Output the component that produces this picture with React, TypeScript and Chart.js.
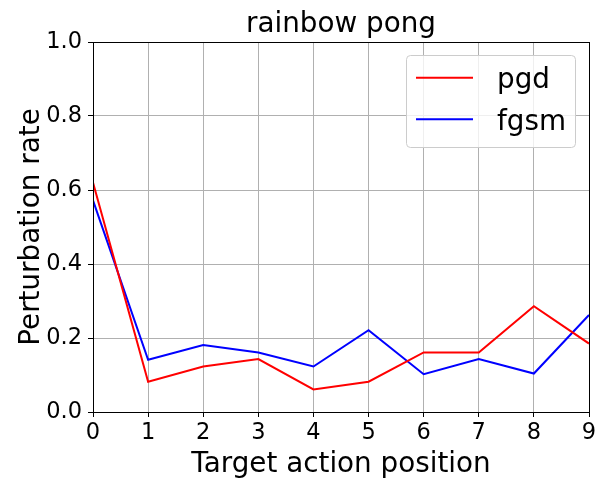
import React, { useEffect, useRef } from "react";
import { Chart, registerables, Plugin } from "chart.js";

Chart.register(...registerables);

const chartTitle = "rainbow pong";
const xTitle = "Target action position";
const yTitle = "Perturbation rate";

const positions = [0, 1, 2, 3, 4, 5, 6, 7, 8, 9];
const pgd = [0.62, 0.082, 0.123, 0.143, 0.061, 0.082, 0.161, 0.161, 0.286, 0.185];
const fgsm = [0.572, 0.141, 0.181, 0.161, 0.123, 0.221, 0.102, 0.143, 0.104, 0.262];

const FONT = "'DejaVu Sans'";

// titles, full frame and matplotlib-style legend
const decorations: Plugin<"line"> = {
  id: "decorations",
  afterDraw(chart) {
    const ctx = chart.ctx;
    const { left, right, top, bottom } = chart.chartArea;
    ctx.save();

    // frame
    ctx.strokeStyle = "#000000";
    ctx.lineWidth = 1;
    ctx.strokeRect(Math.round(left) + 0.5, Math.round(top) + 0.5, Math.round(right - left), Math.round(bottom - top));

    ctx.fillStyle = "#000000";
    ctx.font = `27.8px ${FONT}`;
    ctx.textAlign = "center";
    ctx.textBaseline = "alphabetic";
    ctx.fillText(chartTitle, (left + right) / 2, 32);
    ctx.fillText(xTitle, (left + right) / 2, 471.5);

    ctx.save();
    ctx.translate(38.5, (top + bottom) / 2);
    ctx.rotate(-Math.PI / 2);
    ctx.fillText(yTitle, 0, 0);
    ctx.restore();

    // legend
    const bx = 406.5, by = 55.5, bw = 169, bh = 92, r = 4;
    ctx.beginPath();
    ctx.moveTo(bx + r, by);
    ctx.lineTo(bx + bw - r, by);
    ctx.quadraticCurveTo(bx + bw, by, bx + bw, by + r);
    ctx.lineTo(bx + bw, by + bh - r);
    ctx.quadraticCurveTo(bx + bw, by + bh, bx + bw - r, by + bh);
    ctx.lineTo(bx + r, by + bh);
    ctx.quadraticCurveTo(bx, by + bh, bx, by + bh - r);
    ctx.lineTo(bx, by + r);
    ctx.quadraticCurveTo(bx, by, bx + r, by);
    ctx.closePath();
    ctx.fillStyle = "rgba(255,255,255,0.8)";
    ctx.fill();
    ctx.strokeStyle = "#cccccc";
    ctx.lineWidth = 1;
    ctx.stroke();

    const rows = [77.7, 119.3];
    chart.data.datasets.forEach((ds, i) => {
      const y = rows[i];
      ctx.strokeStyle = ds.borderColor as string;
      ctx.lineWidth = 2;
      ctx.beginPath();
      ctx.moveTo(416, y);
      ctx.lineTo(473, y);
      ctx.stroke();
      ctx.fillStyle = "#000000";
      ctx.textAlign = "left";
      ctx.fillText(ds.label || "", 497, y + 10.5);
    });

    ctx.restore();
  },
};

const App: React.FC = () => {
  const canvasRef = useRef<HTMLCanvasElement | null>(null);
  const chartRef = useRef<Chart<"line"> | null>(null);

  useEffect(() => {
    const ctx = canvasRef.current?.getContext("2d");
    if (!ctx) return;
    if (chartRef.current) chartRef.current.destroy();

    chartRef.current = new Chart(ctx, {
      type: "line",
      data: {
        datasets: [
          {
            label: "pgd",
            data: positions.map((x, i) => ({ x, y: pgd[i] })),
            borderColor: "#ff0000",
            borderWidth: 2,
            pointRadius: 0,
            tension: 0,
          },
          {
            label: "fgsm",
            data: positions.map((x, i) => ({ x, y: fgsm[i] })),
            borderColor: "#0000ff",
            borderWidth: 2,
            pointRadius: 0,
            tension: 0,
          },
        ],
      },
      options: {
        responsive: false,
        animation: false,
        devicePixelRatio: 1,
        layout: { padding: { top: 42, right: 18, left: 0, bottom: 0 } },
        plugins: {
          legend: { display: false },
          tooltip: { enabled: false },
        },
        scales: {
          x: {
            type: "linear",
            min: 0,
            max: 9,
            afterFit: (scale) => {
              scale.height = 76;
            },
            ticks: {
              stepSize: 1,
              color: "#000000",
              padding: 3,
              maxRotation: 0,
              font: { family: FONT, size: 22.5 },
            },
            grid: { color: "#b0b0b0", lineWidth: 1, tickLength: 5, tickColor: "#000000" },
            border: { color: "#000000", width: 1 },
          },
          y: {
            type: "linear",
            min: 0,
            max: 1,
            afterFit: (scale) => {
              scale.width = 93;
            },
            ticks: {
              stepSize: 0.2,
              color: "#000000",
              padding: 6,
              font: { family: FONT, size: 22.5 },
              callback: (v) => Number(v).toFixed(1),
            },
            grid: { color: "#b0b0b0", lineWidth: 1, tickLength: 5, tickColor: "#000000" },
            border: { color: "#000000", width: 1 },
          },
        },
      },
      plugins: [decorations],
    });

    return () => {
      if (chartRef.current) {
        chartRef.current.destroy();
        chartRef.current = null;
      }
    };
  }, []);

  return (
    <div style={{ position: "absolute", left: 0, top: 0, width: 607, height: 488, background: "#ffffff" }}>
      <canvas ref={canvasRef} width={607} height={488} style={{ display: "block" }}></canvas>
    </div>
  );
};

export default App;
